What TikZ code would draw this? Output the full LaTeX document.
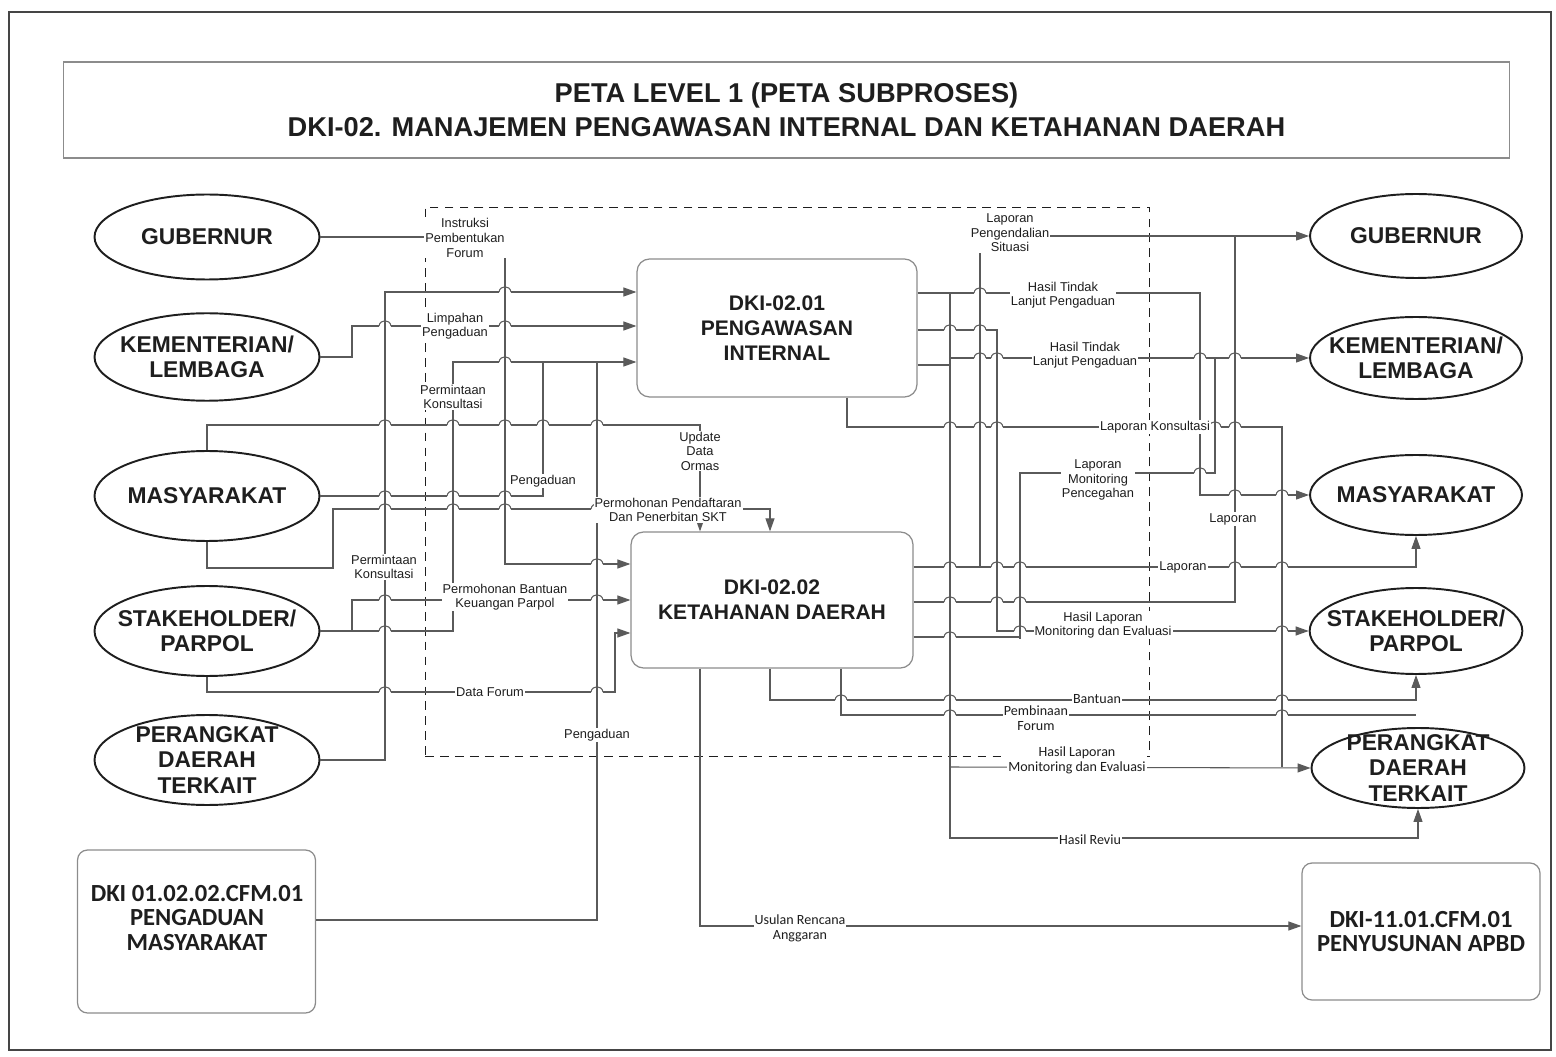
\documentclass[tikz,border=0pt]{standalone}
\usepackage{fontspec}
\setmainfont{Liberation Sans}
\newfontfamily\calfont{Carlito}
\usetikzlibrary{arrows.meta,positioning,calc,shapes.geometric}
\definecolor{Ink}{HTML}{1E1E1E}
\definecolor{Wire}{HTML}{5A5A5A}
\definecolor{Frame}{HTML}{454545}
\definecolor{Rule}{HTML}{8C8C8C}
\tikzset{
  party/.style={ellipse,draw=Ink,line width=1.1pt,minimum width=4.5cm,minimum height=1.75cm,inner sep=-8pt,align=center,text=Ink,font=\fontsize{13}{14.5}\selectfont\bfseries},
  proc/.style={draw=Rule,rounded corners=.25cm,line width=.7pt,minimum width=5.6cm,minimum height=2.76cm,align=center,text=Ink,font=\fontsize{12}{14.2}\selectfont\bfseries},
  cfm/.style={draw=Rule,rounded corners=.2cm,line width=.7pt,minimum width=4.76cm,align=center,text=Ink,font=\calfont\fontsize{14}{14.2}\selectfont\bfseries},
  zone/.style={draw=Ink,dashed,dash pattern=on 5pt off 3.5pt,line width=.6pt,minimum width=14.5cm,minimum height=11cm},
  wire/.style={draw=Wire,line width=.6pt},
  feed/.style={wire,-{Triangle[length=2.6mm,width=1.8mm,fill=Wire]}},
  tag/.style={fill=white,inner sep=.6pt,align=center,text=Ink,font=\fontsize{7.3}{8.3}\selectfont},
  ctag/.style={tag,font=\calfont\fontsize{8}{8.6}\selectfont}
}
\begin{document}
\begin{tikzpicture}[x=0.02cm,y=-0.02cm]
\useasboundingbox (0,0) rectangle (1556,1057);
\draw[draw=Frame,line width=1pt] (9,12) rectangle (1551,1050);

\node[draw=Rule,line width=.7pt,minimum width=28.94cm,minimum height=1.92cm,align=center,text=Ink,font=\fontsize{15.5}{19.3}\selectfont\bfseries] (title) at (786.5,110) {PETA LEVEL 1 (PETA SUBPROSES)\\DKI-02. MANAJEMEN PENGAWASAN INTERNAL DAN KETAHANAN DAERAH};

\node[zone] (zone) at (787.5,482) {};

\node[party,minimum height=1.7cm] (gubL) at (207,237) {GUBERNUR};
\node[party] (kemL) at (207,357) {KEMENTERIAN/\\LEMBAGA};
\node[party,minimum height=1.8cm] (masL) at (207,496) {MASYARAKAT};
\node[party,minimum height=1.8cm] (stkL) at (207,631) {STAKEHOLDER/\\PARPOL};
\node[party,minimum height=1.8cm] (perL) at (207,760) {PERANGKAT\\DAERAH\\TERKAIT};

\node[party,minimum width=4.24cm,minimum height=1.68cm] (gubR) at (1416,236) {GUBERNUR};
\node[party,minimum width=4.24cm,minimum height=1.64cm] (kemR) at (1416,358) {KEMENTERIAN/\\LEMBAGA};
\node[party,minimum width=4.24cm,minimum height=1.6cm] (masR) at (1416,495) {MASYARAKAT};
\node[party,minimum width=4.24cm,minimum height=1.72cm] (stkR) at (1416,631) {STAKEHOLDER/\\PARPOL};
\node[party,minimum width=4.26cm,minimum height=1.6cm] (perR) at (1418,768) {PERANGKAT\\DAERAH\\TERKAIT};

\node[proc] (pi) at (777,328) {DKI-02.01\\PENGAWASAN\\INTERNAL};
\node[proc,minimum width=5.64cm,minimum height=2.72cm] (kd) at (772,600) {DKI-02.02\\KETAHANAN DAERAH};

\node[cfm,minimum height=3.26cm] (pgd) at (196.5,931.5) {};
\node[text=Ink,align=center,font=\calfont\fontsize{14}{14.2}\selectfont\bfseries] (pgdt) at (197,918) {DKI 01.02.02.CFM.01\\PENGADUAN\\MASYARAKAT};
\node[cfm,minimum height=2.74cm] (apbd) at (1421,931.5) {DKI-11.01.CFM.01\\PENYUSUNAN APBD};

\coordinate (aduA) at (543,362);
\coordinate (aduB) at (597,362);
\coordinate (hasil) at (950,293);
\coordinate (monev) at (950,767);
\coordinate (situ) at (980,567);
\coordinate (kons) at (1282,767);
\coordinate (lapG) at (1235,236);
\coordinate (lapK) at (1215,358);

\draw[feed] (gubL.east) -- (505,237) -- (505,564) -- (kd.west |- 0,564);
\draw[feed] (kemL.east) -- (352,357) -- (352,326) -- (pi.west |- 0,326);
\draw[feed] (perL.east) -- (385,760) -- (385,292) -- (pi.west |- 0,292);
\draw[feed] (stkL.east) -- (453,631) -- (453,362) -- (pi.west |- 0,362);
\draw[feed] (stkL.east) -- (352,631) -- (352,600) -- (kd.west |- 0,600);
\draw[feed] (stkL.south) -- (207,692) -- (615,692) -- (615,633) -- (kd.west |- 0,633);
\draw[feed] (masL.north) -- (207,425) -- (700,425) -- (kd.north -| 700,0);
\draw[wire] (masL.east) -- (543,496) -- (aduA);
\draw[feed] (masL.south) -- (207,568) -- (333,568) -- (333,509) -- (770,509) -- (kd.north -| 770,0);
\draw[wire] (pgd.east |- 0,920) -- (597,920) -- (aduB);

\draw[feed] (pi.east |- 0,293) -- (1200,293) -- (1200,495) -- (masR.west);
\draw[feed] (hasil) -- (950,838) -- (1418,838) -- (perR.south);
\draw[feed] (monev) -- (perR.west);
\draw[feed] (pi.east |- 0,330) -- (997,330) -- (997,631) -- (stkR.west);
\draw[feed] (pi.east |- 0,365) -- (950,365) -- (950,358) -- (kemR.west);
\draw[wire] (pi.south -| 847,0) -- (847,427) -- (1282,427) -- (kons);
\draw[feed] (kd.east |- 0,567) -- (1416,567) -- (masR.south);
\draw[feed] (situ) -- (980,236) -- (gubR.west);
\draw[wire] (kd.east |- 0,602) -- (1235,602) -- (lapG);
\draw[wire] (kd.east |- 0,637) -- (1020,637) -- (1020,473) -- (1215,473) -- (lapK);
\draw[feed] (kd.south -| 770,0) -- (770,700) -- (1416,700) -- (stkR.south);
\draw[wire] (kd.south -| 841,0) -- (841,715) -- (1416,715);
\draw[feed] (kd.south -| 700,0) -- (700,926) -- (apbd.west |- 0,926);

\foreach \hx/\hy in {385/326,505/326,505/292,505/362,385/425,453/425,505/425,543/425,597/425,
    385/496,453/496,505/496,385/509,453/509,505/509,597/509,700/509,597/564,385/600,597/600,
    385/631,385/692,597/692,980/293,950/330,980/330,980/358,997/358,1200/358,1235/358,
    950/427,980/427,997/427,1200/427,1215/427,1235/427,1200/473,1235/495,1282/495,
    950/567,997/567,1020/567,1235/567,1282/567,950/602,997/602,1020/602,950/637,
    1020/631,1282/631,841/700,950/700,1282/700,950/715,1282/715}{
  \fill[white] (\hx-6,\hy-1.6) rectangle (\hx+6,\hy+1.6);
  \draw[wire] (\hx,\hy-8) -- (\hx,\hy+8);
  \draw[wire] (\hx-6,\hy) .. controls (\hx-5,\hy-7) and (\hx+5,\hy-7) .. (\hx+6,\hy);
}

\node[tag] (t1) at (465,238) {Instruksi\\Pembentukan\\Forum};
\node[tag] (t2) at (455,326) {Limpahan\\Pengaduan};
\node[tag] (t3) at (384,567) {Permintaan\\Konsultasi};
\node[tag] (t4) at (453,397) {Permintaan\\Konsultasi};
\node[tag] (t5) at (505,597) {Permohonan Bantuan\\Keuangan Parpol};
\node[tag] (t6) at (490,692) {Data Forum};
\node[tag] (t7) at (700,451) {Update\\Data\\Ormas};
\node[tag] (t8) at (543,481) {Pengaduan};
\node[tag] (t9) at (668,510) {Permohonan Pendaftaran\\Dan Penerbitan SKT};
\node[tag] (t10) at (597,735) {Pengaduan};
\node[tag] (t11) at (1063,295) {Hasil Tindak\\Lanjut Pengaduan};
\node[tag] (t12) at (1010,233) {Laporan\\Pengendalian\\Situasi};
\node[tag] (t13) at (1085,355) {Hasil Tindak\\Lanjut Pengaduan};
\node[tag] (t14) at (1155,427) {Laporan Konsultasi};
\node[tag] (t15) at (1098,480) {Laporan\\Monitoring\\Pencegahan};
\node[tag] (t16) at (1233,519) {Laporan};
\node[tag] (t17) at (1183,567) {Laporan};
\node[tag] (t18) at (1103,625) {Hasil Laporan\\Monitoring dan Evaluasi};
\node[ctag] (t19) at (1097,699) {Bantuan};
\node[ctag] (t20) at (1036,718) {Pembinaan\\Forum};
\node[ctag] (t21) at (1077,760) {Hasil Laporan\\Monitoring dan Evaluasi};
\node[ctag] (t22) at (1090,840) {Hasil Reviu};
\node[ctag] (t23) at (800,928) {Usulan Rencana\\Anggaran};
\end{tikzpicture}
\end{document}
